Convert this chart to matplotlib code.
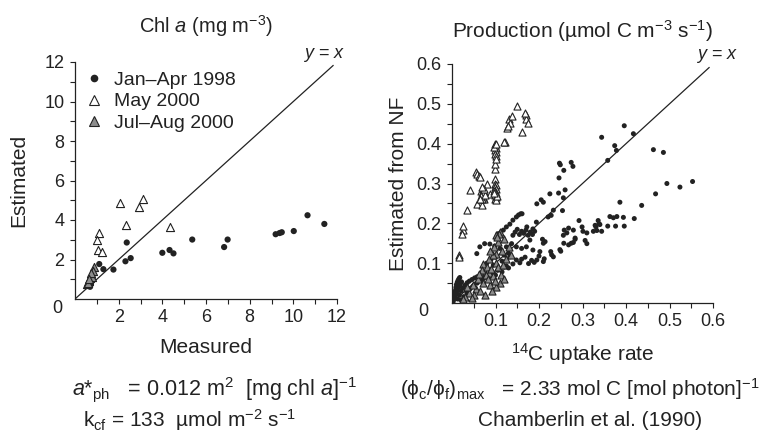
import numpy as np
import matplotlib
matplotlib.use("Agg")
import matplotlib.pyplot as plt
from matplotlib.lines import Line2D

plt.rcParams['font.family'] = ['Liberation Sans', 'DejaVu Sans']
plt.rcParams['mathtext.fontset'] = 'custom'
plt.rcParams['mathtext.rm'] = 'Liberation Sans'
plt.rcParams['mathtext.it'] = 'Liberation Sans:italic'
plt.rcParams['mathtext.default'] = 'regular'

INK = '#222222'
GRAY = '#8c8c8c'

# ---- left panel: Chl a (mg m-3) ----
chl_jan_apr_1998 = [(2.37, 2.86), (1.11, 1.77), (1.30, 1.51), (1.76, 1.49), (2.31, 1.91),
                    (2.55, 2.07), (4.00, 2.34), (4.33, 2.48), (4.51, 2.31), (5.37, 3.01),
                    (6.83, 2.63), (6.99, 3.01), (9.19, 3.28), (9.37, 3.34), (9.47, 3.38),
                    (10.02, 3.44), (10.65, 4.24), (11.42, 3.80), (0.69, 0.62)]
chl_may_2000 = [(2.06, 4.86), (3.13, 5.08), (2.95, 4.68), (2.32, 3.74), (4.36, 3.63),
                (1.11, 3.32), (0.99, 2.97), (1.07, 2.48), (1.25, 2.39), (0.60, 0.85)]
chl_jul_aug_2000 = [(0.87, 1.62), (0.81, 1.40), (0.75, 1.22), (0.70, 1.05), (0.62, 0.90),
                    (0.55, 0.78), (0.66, 0.95), (0.78, 1.12), (0.58, 0.82), (0.72, 1.30),
                    (0.64, 1.00)]

# ---- right panel: production (umol C m-3 s-1) ----
prod_jan_apr_1998 = [
    # steep streak from the origin
    (0.003, 0.004), (0.004, 0.011), (0.005, 0.018), (0.006, 0.025), (0.008, 0.032),
    (0.009, 0.039), (0.010, 0.046), (0.012, 0.052), (0.014, 0.057), (0.016, 0.061),
    (0.018, 0.064), (0.008, 0.012), (0.011, 0.022), (0.013, 0.031), (0.016, 0.040),
    (0.019, 0.047), (0.022, 0.053), (0.013, 0.010), (0.017, 0.020), (0.021, 0.030),
    (0.025, 0.038), (0.030, 0.045), (0.035, 0.051), (0.040, 0.055), (0.046, 0.059),
    (0.052, 0.063), (0.058, 0.066), (0.020, 0.008), (0.027, 0.016), (0.034, 0.026),
    (0.042, 0.036), (0.050, 0.044), (0.058, 0.050), (0.066, 0.056), (0.072, 0.061),
    # lower branch
    (0.075, 0.065), (0.080, 0.068), (0.085, 0.062), (0.090, 0.072), (0.095, 0.075),
    (0.100, 0.070), (0.105, 0.082), (0.110, 0.085), (0.115, 0.078), (0.120, 0.090),
    (0.125, 0.093), (0.130, 0.088), (0.133, 0.116), (0.140, 0.098), (0.148, 0.108),
    (0.156, 0.101), (0.160, 0.110), (0.168, 0.115), (0.176, 0.099), (0.183, 0.107),
    (0.189, 0.102), (0.195, 0.108), (0.200, 0.118), (0.210, 0.104), (0.212, 0.111),
    (0.202, 0.129), (0.229, 0.121), (0.227, 0.129), (0.233, 0.116), (0.210, 0.150),
    (0.208, 0.160), (0.248, 0.134), (0.250, 0.130), (0.257, 0.150), (0.268, 0.146),
    (0.274, 0.150), (0.279, 0.152), (0.283, 0.160), (0.306, 0.157), (0.310, 0.149),
    # middle band
    (0.057, 0.124), (0.064, 0.141), (0.075, 0.149), (0.087, 0.148), (0.098, 0.143),
    (0.110, 0.137), (0.125, 0.141), (0.137, 0.149), (0.148, 0.141), (0.160, 0.137),
    (0.171, 0.141), (0.179, 0.158), (0.186, 0.133), (0.214, 0.154), (0.106, 0.174),
    (0.118, 0.183), (0.125, 0.191), (0.133, 0.198), (0.140, 0.208), (0.148, 0.216),
    (0.158, 0.224), (0.140, 0.170), (0.145, 0.178), (0.150, 0.185), (0.155, 0.172),
    (0.160, 0.180), (0.165, 0.175), (0.170, 0.183), (0.175, 0.170), (0.180, 0.178),
    (0.185, 0.172), (0.190, 0.180), (0.186, 0.186), (0.194, 0.203), (0.172, 0.191),
    (0.161, 0.224), (0.153, 0.221), (0.080, 0.100), (0.090, 0.110), (0.100, 0.115),
    (0.120, 0.120), (0.130, 0.125), (0.115, 0.105), (0.095, 0.095),
    # near the 1:1 line above 0.2
    (0.205, 0.259), (0.210, 0.253), (0.195, 0.249), (0.225, 0.274), (0.233, 0.233),
    (0.221, 0.216), (0.228, 0.220), (0.246, 0.314), (0.247, 0.351), (0.249, 0.347),
    (0.257, 0.333), (0.274, 0.353), (0.278, 0.343), (0.260, 0.284), (0.245, 0.276),
    (0.256, 0.264), (0.254, 0.232), (0.344, 0.416), (0.396, 0.445), (0.374, 0.395),
    (0.378, 0.383), (0.358, 0.358), (0.417, 0.425),
    # right-hand group below the line
    (0.463, 0.385), (0.486, 0.378), (0.494, 0.300), (0.524, 0.291), (0.553, 0.305),
    (0.468, 0.274), (0.436, 0.245), (0.419, 0.212), (0.386, 0.253), (0.371, 0.214),
    (0.379, 0.217), (0.363, 0.217), (0.394, 0.215), (0.376, 0.193), (0.396, 0.193),
    (0.358, 0.193), (0.340, 0.197), (0.336, 0.207), (0.331, 0.191), (0.344, 0.180),
    (0.325, 0.180), (0.310, 0.176), (0.299, 0.191), (0.292, 0.207), (0.301, 0.180),
    (0.283, 0.163), (0.279, 0.183), (0.264, 0.176), (0.268, 0.188), (0.256, 0.170),
    (0.258, 0.183), (0.329, 0.195), (0.338, 0.199), (0.333, 0.182),
]
prod_may_2000 = [
    (0.016, 0.120), (0.017, 0.115), (0.025, 0.184), (0.026, 0.193), (0.024, 0.174),
    (0.034, 0.234), (0.041, 0.284), (0.055, 0.328), (0.057, 0.324), (0.061, 0.318),
    (0.064, 0.316), (0.080, 0.300), (0.057, 0.248), (0.068, 0.245), (0.074, 0.262),
    (0.087, 0.274), (0.099, 0.311), (0.099, 0.336), (0.099, 0.349), (0.122, 0.403),
    (0.120, 0.405), (0.130, 0.462), (0.133, 0.452), (0.137, 0.470), (0.150, 0.495),
    (0.160, 0.430), (0.169, 0.472), (0.171, 0.463), (0.174, 0.453), (0.168, 0.478),
    (0.126, 0.440), (0.128, 0.445),
    # stack at ~0.1
    (0.098, 0.400), (0.099, 0.395), (0.100, 0.390), (0.098, 0.385), (0.100, 0.380),
    (0.099, 0.375), (0.101, 0.370), (0.097, 0.392), (0.102, 0.398), (0.100, 0.362),
    (0.099, 0.300), (0.100, 0.295), (0.098, 0.290), (0.100, 0.285), (0.099, 0.280),
    (0.101, 0.275), (0.098, 0.270), (0.100, 0.265), (0.099, 0.260), (0.102, 0.258),
    (0.097, 0.282), (0.103, 0.268), (0.096, 0.275),
    # cluster at ~0.07
    (0.066, 0.280), (0.068, 0.275), (0.070, 0.270), (0.072, 0.265), (0.069, 0.260),
    (0.071, 0.285), (0.073, 0.278), (0.067, 0.268), (0.075, 0.270), (0.065, 0.262),
    (0.074, 0.287), (0.070, 0.292),
]
prod_jul_aug_2000 = [
    (0.110, 0.178), (0.108, 0.174), (0.106, 0.153), (0.102, 0.124), (0.072, 0.099),
    (0.069, 0.083), (0.080, 0.090), (0.085, 0.075), (0.095, 0.068), (0.110, 0.049),
    (0.100, 0.040), (0.088, 0.045), (0.072, 0.050), (0.055, 0.035), (0.040, 0.025),
    (0.030, 0.016), (0.050, 0.020), (0.065, 0.030), (0.085, 0.110), (0.095, 0.120),
    (0.100, 0.100), (0.090, 0.085), (0.078, 0.070), (0.060, 0.060), (0.105, 0.090),
    (0.115, 0.130), (0.120, 0.160), (0.125, 0.110), (0.112, 0.070), (0.098, 0.055),
    (0.092, 0.030), (0.100, 0.170), (0.104, 0.165), (0.096, 0.140), (0.088, 0.130),
    (0.130, 0.140), (0.135, 0.120), (0.118, 0.095), (0.048, 0.045), (0.035, 0.040),
    (0.025, 0.010), (0.045, 0.012), (0.075, 0.020), (0.082, 0.060), (0.062, 0.072),
    (0.120, 0.060),
]

legend_labels = ['Jan\u2013Apr 1998', 'May 2000', 'Jul\u2013Aug 2000']
right_tick_labels = ['0.1', '0.2', '0.3', '0.4', '0.5', '0.6']


def xy(points):
    arr = np.array(points)
    return arr[:, 0], arr[:, 1]


def style_axes(ax, lim, major, minor, zero_offset):
    ax.set_xlim(0, lim)
    ax.set_ylim(0, lim)
    for side in ('top', 'right'):
        ax.spines[side].set_visible(False)
    for side in ('left', 'bottom'):
        ax.spines[side].set_color(INK)
        ax.spines[side].set_linewidth(0.9)
    ticks = np.arange(major, lim + major / 2, major)
    ax.set_xticks(ticks)
    ax.set_yticks(ticks)
    ax.set_xticks(np.arange(minor, lim, major), minor=True)
    ax.set_yticks(np.arange(minor, lim, major), minor=True)
    ax.tick_params(which='both', direction='out', length=3.5, width=0.8,
                   color=INK, labelcolor=INK, labelsize=13, pad=4)
    ax.annotate('0', xy=(0, 0), xycoords='axes fraction', xytext=zero_offset,
                textcoords='offset points', ha='center', va='center',
                fontsize=13, color=INK)
    # 1:1 line
    ax.plot([0, lim * 0.985], [0, lim * 0.985], color=INK, lw=0.9, zorder=1)


fig = plt.figure(figsize=(7.73, 4.32), dpi=100)
ax1 = fig.add_axes([75 / 773, 1 - 299 / 432, 262 / 773, 237 / 432])
ax2 = fig.add_axes([452 / 773, 1 - 303 / 432, 261 / 773, 239 / 432])

# left panel
style_axes(ax1, 12, 2, 1, (-13, -7))
x, y = xy(chl_jan_apr_1998)
ax1.scatter(x, y, s=20, marker='o', color=INK, edgecolors='none', zorder=3)
x, y = xy(chl_may_2000)
ax1.scatter(x, y, s=34, marker='^', facecolors='white', edgecolors=INK, linewidths=0.8, zorder=3)
x, y = xy(chl_jul_aug_2000)
ax1.scatter(x, y, s=34, marker='^', facecolors=GRAY, edgecolors=INK, linewidths=0.8, zorder=4)
ax1.text(11.4, 12.35, r'$\mathit{y}$ = $\mathit{x}$', ha='center', va='center',
         fontsize=13, color=INK, clip_on=False)
ax1.set_title(r'Chl $\mathit{a}$ (mg m$^{-3}$)', fontsize=14.5, color=INK, pad=21)
ax1.set_xlabel('Measured', fontsize=15, color=INK, labelpad=8)
ax1.set_ylabel('Estimated', fontsize=15, color=INK, labelpad=12)

handles = [
    Line2D([], [], ls='none', marker='o', ms=5.5, color=INK, mec='none'),
    Line2D([], [], ls='none', marker='^', ms=6.5, mfc='white', mec=INK, mew=0.8),
    Line2D([], [], ls='none', marker='^', ms=6.5, mfc=GRAY, mec=INK, mew=0.8),
]
leg = ax1.legend(handles, legend_labels, loc='upper left', bbox_to_anchor=(0.0, 1.01),
                 frameon=False, fontsize=14, handlelength=0.8, handletextpad=0.6,
                 labelspacing=0.2, borderaxespad=0.2)
for t in leg.get_texts():
    t.set_color(INK)

# right panel
style_axes(ax2, 0.6, 0.1, 0.05, (-21, -6))
ax2.set_xticklabels(right_tick_labels)
ax2.set_yticklabels(right_tick_labels)
x, y = xy(prod_jan_apr_1998)
ax2.scatter(x, y, s=13, marker='o', color=INK, edgecolors='none', zorder=3)
x, y = xy(prod_may_2000)
ax2.scatter(x, y, s=26, marker='^', facecolors='white', edgecolors=INK, linewidths=0.8, zorder=3)
x, y = xy(prod_jul_aug_2000)
ax2.scatter(x, y, s=26, marker='^', facecolors=GRAY, edgecolors=INK, linewidths=0.8, zorder=4)
ax2.text(0.609, 0.62, r'$\mathit{y}$ = $\mathit{x}$', ha='center', va='center',
         fontsize=13, color=INK, clip_on=False)
ax2.set_title('Production (\u00b5mol C m$^{-3}$ s$^{-1}$)', fontsize=15, color=INK, pad=19)
ax2.set_xlabel('$^{14}$C uptake rate', fontsize=15, color=INK, labelpad=8)
ax2.set_ylabel('Estimated from NF', fontsize=15, color=INK, labelpad=6)

# parameter notes under each panel
fig.text(214 / 773, 1 - 389 / 432,
         r'$\mathit{a}$*$_{ph}$   = 0.012 m$^2$  [mg chl $\mathit{a}$]$^{-1}$',
         ha='center', va='center', fontsize=15.5, color=INK)
fig.text(190 / 773, 1 - 420 / 432, 'k$_{cf}$ = 133  \u00b5mol m$^{-2}$ s$^{-1}$',
         ha='center', va='center', fontsize=15, color=INK)
fig.text(580 / 773, 1 - 389 / 432,
         '(\u03d5$_{c}$/\u03d5$_{f}$)$_{max}$   = 2.33 mol C [mol photon]$^{-1}$',
         ha='center', va='center', fontsize=15, color=INK)
fig.text(590 / 773, 1 - 420 / 432, 'Chamberlin et al. (1990)',
         ha='center', va='center', fontsize=15, color=INK)

fig.savefig('out.png', dpi=100, facecolor='white')
